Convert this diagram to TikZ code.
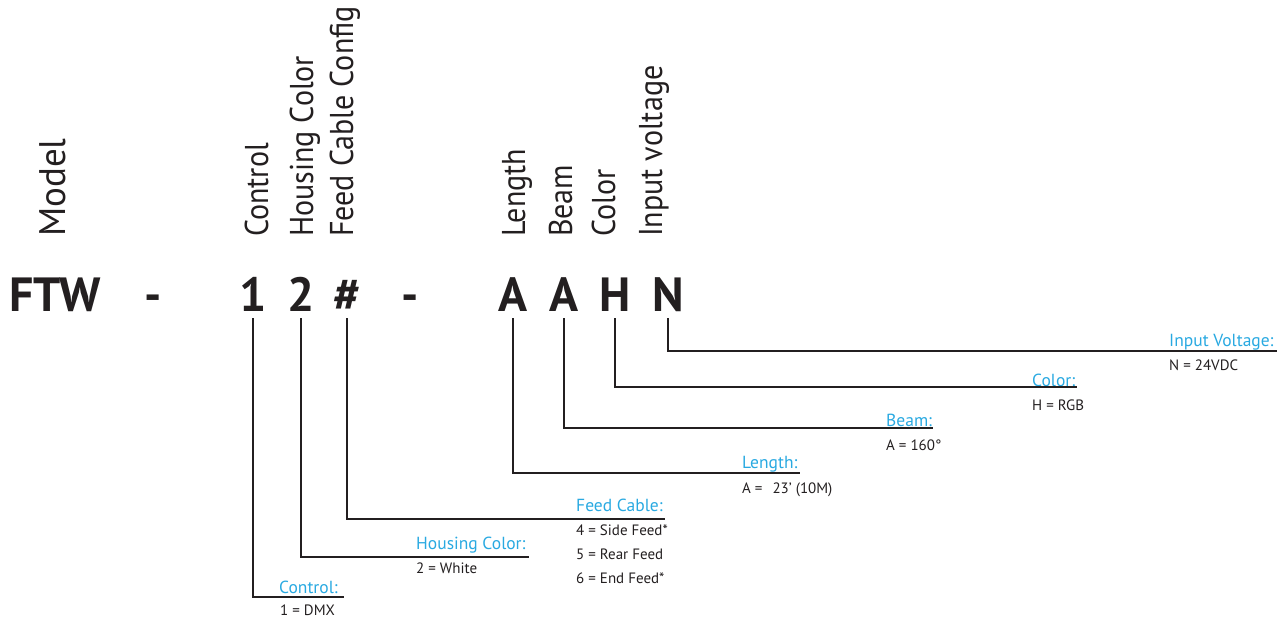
\documentclass[tikz,border=0pt]{standalone}
\usepackage{fontspec}
\setmainfont{PT Sans}
\newfontfamily\narrowfont[FakeStretch=0.91]{PT Sans}
\definecolor{sky}{HTML}{29A9E1}
\definecolor{ink}{HTML}{231F20}

\begin{document}
\begin{tikzpicture}[x=1pt,y=-1pt,
  code/.style={font=\fontsize{48}{48}\selectfont\bfseries,text=ink,anchor=base,inner sep=0pt},
  field/.style={font=\narrowfont\fontsize{33}{33}\selectfont,text=ink,rotate=90,anchor=base west,inner sep=0pt},
  title/.style={font=\fontsize{17.5}{17.5}\selectfont,text=sky,anchor=base west,inner sep=0pt},
  value/.style={font=\fontsize{15}{15}\selectfont,text=ink,anchor=base west,inner sep=0pt},
  lead/.style={draw=ink,line width=1.2pt,shorten <=7pt}]
 \useasboundingbox (0,0) rectangle (1287,622);
 % field headings
 \node[field,font=\fontsize{37}{37}\selectfont] (model) at (65,237) {Model};
 \node[field] (hctl) at (268,237) {Control};
 \node[field] (hhsg) at (313,237) {Housing Color};
 \node[field] (hfeed) at (353,237) {Feed Cable Config};
 \node[field] (hlen) at (525,237) {Length};
 \node[field] (hbeam) at (572,237) {Beam};
 \node[field] (hcol) at (615,237) {Color};
 \node[field] (hvolt) at (662,237) {Input voltage};
 % part number
 \node[code] (ftw) at (55,311) {FTW};
 \node[code] (dash1) at (153,311) {-};
 \node[code] (c1) at (253,311) {1};
 \node[code] (c2) at (301,311) {2};
 \node[code] (c3) at (347,311) {\#};
 \node[code] (dash2) at (410,311) {-};
 \node[code] (c4) at (513,311) {A};
 \node[code] (c5) at (564,311) {A};
 \node[code] (c6) at (615,311) {H};
 \node[code] (c7) at (668,311) {N};
 % options
 \node[title] (tctl) at (279,593) {Control:};
 \node[value] (vctl) at (280,615) {1 = DMX};
 \coordinate (ectl) at (344,597);
 \node[title] (thsg) at (416,549) {Housing Color:};
 \node[value] (vhsg) at (416,573) {2 = White};
 \coordinate (ehsg) at (529,557);
 \node[title] (tfeed) at (576,511) {Feed Cable:};
 \node[value] (vfeed1) at (576,535) {4 = Side Feed*};
 \node[value] (vfeed2) at (576,559) {5 = Rear Feed};
 \node[value] (vfeed3) at (576,583) {6 = End Feed*};
 \coordinate (efeed) at (665,519);
 \node[title] (tlen) at (742,468) {Length:};
 \node[value] (vlen) at (742,493) {A =\hspace{10pt}23’ (10M)};
 \coordinate (elen) at (800,473);
 \node[title] (tbeam) at (886,426) {Beam:};
 \node[value] (vbeam) at (886,450) {A = 160°};
 \coordinate (ebeam) at (933,428);
 \node[title] (tcol) at (1032,386) {Color:};
 \node[value] (vcol) at (1032,410) {H = RGB};
 \coordinate (ecol) at (1077,387);
 \node[title] (tvolt) at (1169,346) {Input Voltage:};
 \node[value] (vvolt) at (1169,370) {N = 24VDC};
 \coordinate (evolt) at (1277,351);
 % leader lines
 \draw[lead] (c1.south) |- (ectl);
 \draw[lead] (c2.south) |- (ehsg);
 \draw[lead] (c3.south) |- (efeed);
 \draw[lead] (c4.south) |- (elen);
 \draw[lead] (c5.south) |- (ebeam);
 \draw[lead] (c6.south) |- (ecol);
 \draw[lead] (c7.south) |- (evolt);
\end{tikzpicture}
\end{document}
